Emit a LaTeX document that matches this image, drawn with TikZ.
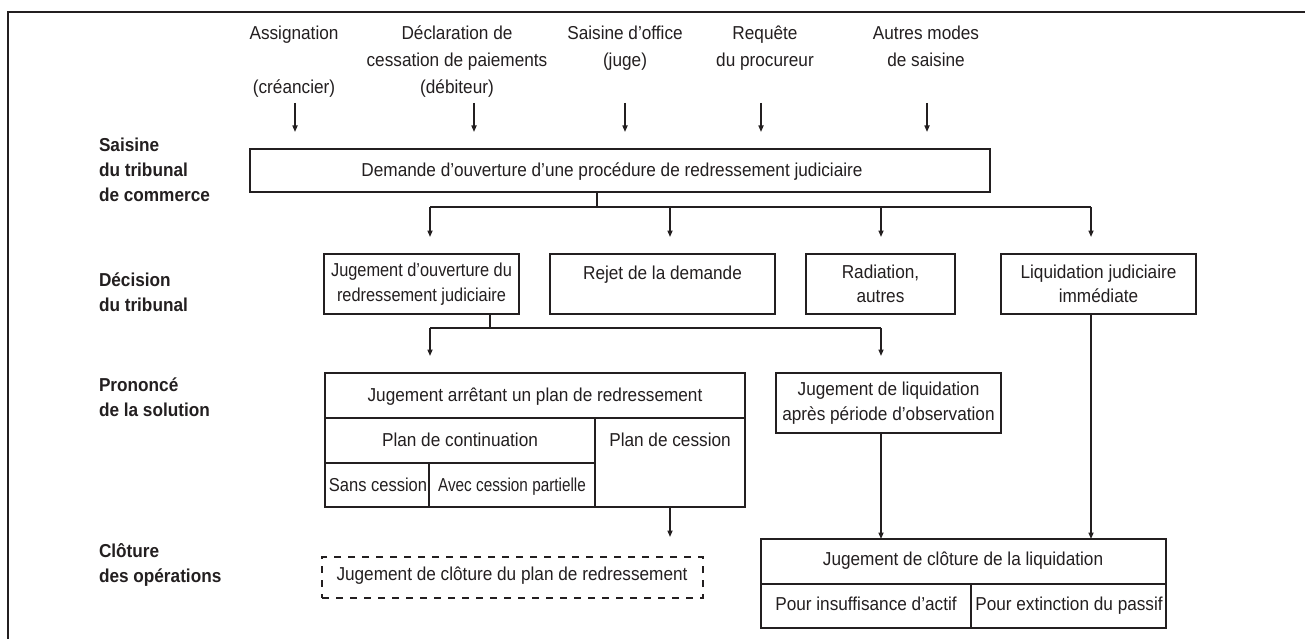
\documentclass[tikz,border=0pt]{standalone}
\usepackage{fontspec}
\setmainfont{Liberation Sans}[FakeStretch=0.92]
\usetikzlibrary{arrows.meta}
\definecolor{ink}{RGB}{35,31,32}
\begin{document}
\begin{tikzpicture}[x=1pt,y=-1pt,
  every node/.style={font=\fontsize{18.7}{24.5}\selectfont, text=ink, inner sep=0pt, outer sep=0pt},
  box/.style={draw=ink, line width=1.2pt, rectangle, align=center},
  one/.style={text height=12pt, text depth=0pt},
  arr/.style={draw=ink, line width=1.5pt, -{Triangle[length=6.5pt,width=5pt]}},
  ln/.style={draw=ink, line width=1.2pt},
  divl/.style={draw=ink, line width=1.6pt},
  lab/.style={font=\fontsize{18.7}{25}\selectfont\bfseries, align=left, anchor=base west},
  src/.style={font=\fontsize{18.7}{27}\selectfont, align=center, anchor=base}]
\useasboundingbox (0,0) rectangle (1305,639);
\fill[white] (0,0) rectangle (1305,639);
% frame
\coordinate (fr1) at (1305,12);
\coordinate (fr2) at (8,12);
\coordinate (fr3) at (8,639);
\draw[ln, line width=1.3pt] (fr1) -- (fr2) -- (fr3);

% left labels (anchored at the baseline of their last line)
\node[lab] (l1) at (99,201) {Saisine\\du tribunal\\de commerce};
\node[lab] (l2) at (99,311.5) {Décision\\du tribunal};
\node[lab] (l3) at (99,416.5) {Prononcé\\de la solution};
\node[lab] (l4) at (99,582.5) {Clôture\\des opérations};

% sources (anchored at the baseline of their last line)
\node[src] (s1) at (294,94) {Assignation\\[27pt](créancier)};
\node[src] (s2) at (457,94) {Déclaration de\\cessation de paiements\\(débiteur)};
\node[src] (s3) at (625,67) {Saisine d’office\\(juge)};
\node[src] (s4) at (765,67) {Requête\\du procureur};
\node[src] (s5) at (926,67) {Autres modes\\de saisine};
\foreach \n/\x in {1/295,2/474,3/625,4/761,5/927}{
  \coordinate (t\n) at (\x,103);
  \coordinate (h\n) at (\x,132);
  \draw[arr] (t\n) -- (h\n);
}

% demande
\node[box, minimum width=740pt, minimum height=43pt] (dem) at (620,170.5) {};
\node[one] (demt) at (612,170.5) {Demande d’ouverture d’une procédure de redressement judiciaire};

% decisions
\node[box, minimum width=195pt, minimum height=60pt] (d1) at (421.5,284) {\scalebox{0.95}[1]{Jugement d’ouverture du}\\\scalebox{0.95}[1]{redressement judiciaire}};
\node[box, minimum width=225pt, minimum height=60pt] (d2) at (662.5,284) {};
\node[one] (d2t) at (662.5,273) {Rejet de la demande};
\node[box, minimum width=149pt, minimum height=60pt] (d3) at (880.5,284) {Radiation,\\autres};
\node[box, minimum width=195pt, minimum height=60pt] (d4) at (1098.5,284) {Liquidation judiciaire\\immédiate};

% level 1 connectors
\coordinate (j1) at (597,207);
\draw[ln] (dem.south -| j1) -- (j1);
\foreach \n/\x in {1/430,2/670,3/881,4/1091}{
  \coordinate (b\n) at (\x,207);
  \coordinate (e\n) at (\x,237);
}
\draw[ln] (b1) -- (b4);
\foreach \n in {1,2,3,4}{\draw[arr] (b\n) -- (e\n);}

% level 2 connectors
\coordinate (k0) at (490,328);
\coordinate (k1) at (430,328);
\coordinate (k2) at (881,328);
\coordinate (m1) at (430,356);
\coordinate (m2) at (881,356);
\draw[ln] (d1.south -| k0) -- (k0);
\draw[ln] (k1) -- (k2);
\draw[arr] (k1) -- (m1);
\draw[arr] (k2) -- (m2);

% plan de redressement table
\node[box, minimum width=420pt, minimum height=134pt] (arret) at (535,440) {};
\coordinate (y418) at (0,418);
\coordinate (y463) at (0,463);
\coordinate (x595) at (595,0);
\coordinate (x429) at (429,0);
\draw[divl] (arret.west |- y418) -- (arret.east |- y418);
\draw[divl] (x595 |- y418) -- (x595 |- arret.south);
\draw[divl] (arret.west |- y463) -- (x595 |- y463);
\draw[divl] (x429 |- y463) -- (x429 |- arret.south);
\node[one] (tarret) at (535,395.5) {Jugement arrêtant un plan de redressement};
\node[one] (pcont) at (460,440) {Plan de continuation};
\node[one] (pcess) at (670,440) {Plan de cession};
\node[one] (sansc) at (378,485) {\scalebox{0.96}[1]{Sans cession}};
\node[one] (avecc) at (512,485) {\scalebox{0.89}[1]{Avec cession partielle}};

% arrow to dashed box
\coordinate (x670) at (670,0);
\coordinate (q1) at (670,537);
\draw[arr] (x670 |- arret.south) -- (q1);

% dashed box
\node[box, dash pattern=on 7pt off 7pt, minimum width=381pt, minimum height=41pt] (clo1) at (512.5,577.5) {};
\node[one] (clo1t) at (512,574) {Jugement de clôture du plan de redressement};

% liquidation apres observation
\node[box, minimum width=225pt, minimum height=60pt] (jl) at (888.5,403) {Jugement de liquidation\\après période d’observation};

% cloture liquidation table
\node[box, minimum width=405pt, minimum height=89pt] (cl) at (963.5,583.5) {};
\coordinate (y584) at (0,584);
\coordinate (x971) at (971,0);
\draw[divl] (cl.west |- y584) -- (cl.east |- y584);
\draw[divl] (x971 |- y584) -- (x971 |- cl.south);
\node[one] (clt) at (963,559) {Jugement de clôture de la liquidation};
\node[one] (cla) at (866,604) {Pour insuffisance d’actif};
\node[one] (clb) at (1069,604) {Pour extinction du passif};

% arrows into cloture liquidation
\coordinate (x881) at (881,0);
\coordinate (x1091) at (1091,0);
\draw[arr] (jl.south -| x881) -- (cl.north -| x881);
\draw[arr] (d4.south -| x1091) -- (cl.north -| x1091);
\end{tikzpicture}
\end{document}
